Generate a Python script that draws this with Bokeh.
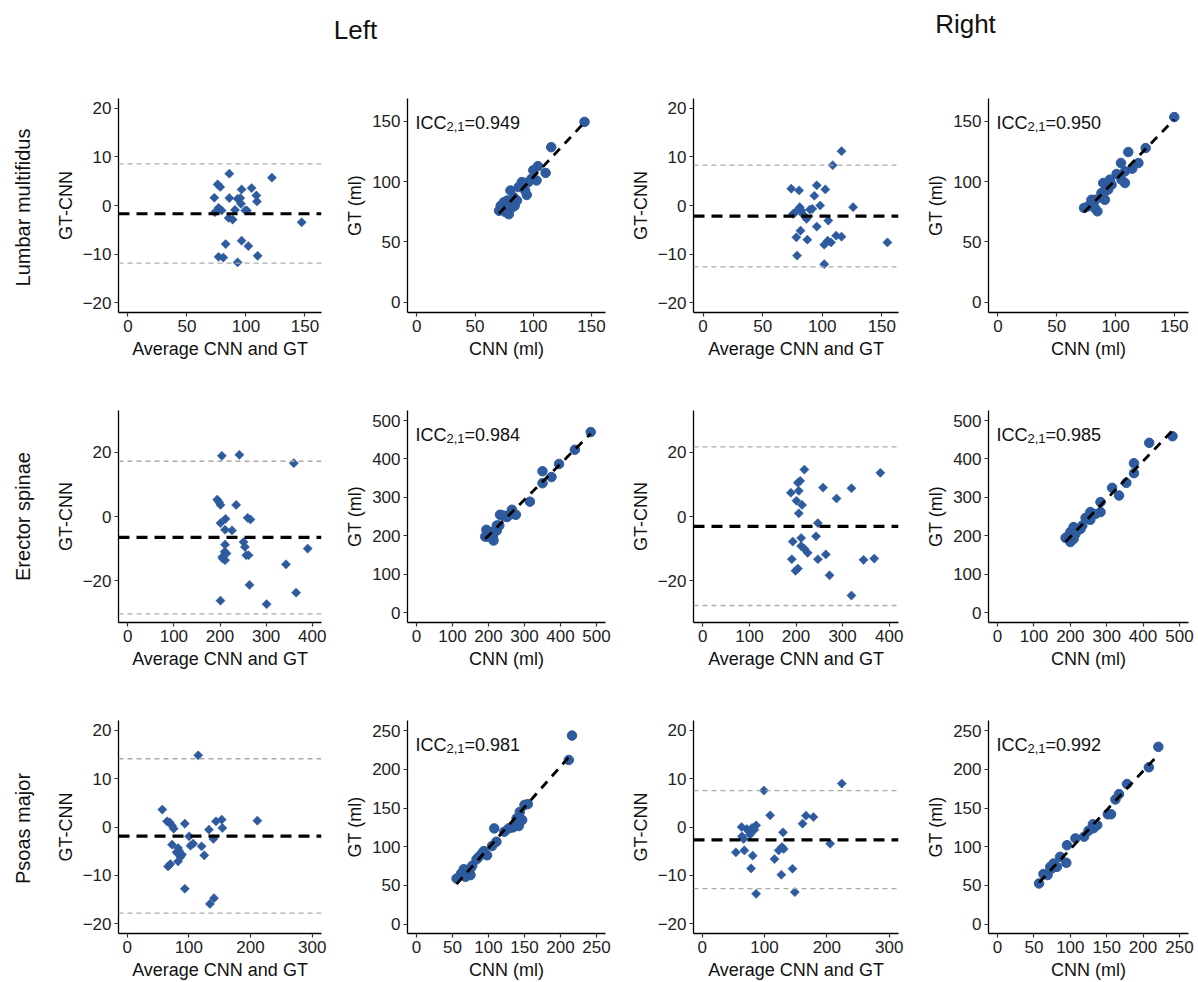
import numpy as np
from bokeh.plotting import figure
from bokeh.layouts import row, column
from bokeh.models import Range1d, Span, Label, FixedTicker
from bokeh.embed import file_html
from bokeh.resources import INLINE
from bokeh.core.properties import value

FONT = "Liberation Sans"
BLUE = "#2E5A9E"

col_titles = ["Left", "Right"]
row_titles = ["Lumbar multifidus", "Erector spinae", "Psoas major"]

# ---- Lumbar multifidus, left ----
lm_left_avg = [73.2, 73.7, 76.0, 78.2, 76.8, 79.4, 76.8, 80.8, 82.8, 85.9, 85.9, 85.3, 88.7, 90.7, 92.9,
               92.9, 95.2, 95.8, 96.3, 96.3, 99.4, 100.8, 102.0, 104.8, 108.8, 109.3, 109.9, 122.0, 147.2]
lm_left_diff = [1.59, -1.38, 4.34, 3.80, -0.48, -1.03, -10.55, -10.70, -7.93, 6.55, 1.52, -2.55, -2.90, -0.90,
                -11.70, 1.38, 1.52, 0.34, 3.31, -7.24, -1.03, -1.03, -8.34, 3.59, 2.07, 0.83, -10.34, 5.72, -3.45]
lm_left_cnn = [144.0, 115.4, 110.6, 104.0, 100.0, 102.8, 98.6, 95.8, 90.2, 91.6, 94.4, 87.4, 80.4, 83.2,
               77.6, 74.8, 72.0, 70.6, 79.0, 82.0, 84.0, 73.4, 76.0, 86.0, 93.0]
lm_left_gt = [149.6, 128.6, 107.3, 112.9, 109.5, 101.0, 102.5, 99.7, 99.7, 97.0, 89.0, 95.5, 92.7, 87.0,
              84.3, 83.0, 80.0, 75.9, 73.0, 78.7, 80.0, 77.6, 74.8, 84.3, 92.7]
lm_left_stats = [-1.7, 8.55, -11.85]   # bias, upper LoA, lower LoA
lm_left_icc = "0.949"

# ---- Lumbar multifidus, right ----
lm_right_avg = [74.0, 75.5, 77.5, 80.6, 81.2, 82.6, 84.0, 78.3, 81.8, 78.9, 86.9, 87.5, 89.7, 91.7, 93.4,
                95.4, 95.4, 98.3, 102.6, 101.7, 101.7, 105.1, 104.6, 107.4, 108.8, 111.7, 116.2, 116.2, 125.9, 154.7]
lm_right_diff = [3.45, -1.72, -1.38, 3.10, -0.34, -1.03, -1.86, -6.55, -5.17, -10.30, -2.76, -7.03, -0.83, -0.69,
                 2.00, 4.14, -4.34, 0.00, 3.31, -12.07, -8.07, -3.10, -7.24, -7.60, 8.28, -6.20, 11.17, -6.41, -0.34, -7.60]
lm_right_cnn = [149.9, 125.6, 110.8, 104.6, 119.4, 114.2, 108.0, 100.9, 105.0, 108.0, 95.2, 92.3, 89.5, 96.6,
                93.7, 90.9, 88.0, 89.5, 82.9, 79.5, 79.5, 76.6, 73.2, 84.6, 82.3, 90.9]
lm_right_gt = [153.6, 127.9, 124.6, 115.5, 115.5, 110.8, 108.6, 106.4, 101.7, 98.9, 101.7, 98.9, 98.9, 97.5,
               93.4, 92.0, 90.6, 86.5, 85.0, 85.0, 80.9, 79.6, 78.2, 75.4, 78.2, 85.0]
lm_right_stats = [-2.2, 8.3, -12.6]
lm_right_icc = "0.950"

# ---- Erector spinae, left ----
es_left_avg = [204, 242, 360, 194, 198, 201, 235, 201, 212, 211, 226, 260, 266, 251, 254, 257, 262, 211, 210,
               214, 205, 211, 264, 201, 301, 343, 365, 390, 206]
es_left_diff = [18.9, 19.2, 16.6, 5.26, 4.43, 3.6, 3.6, -2.06, -0.72, -4.12, -4.33, -0.41, -0.93, -7.94, -9.48,
                -12.06, -12.06, -8.76, -11.0, -11.5, -12.6, -13.6, -21.3, -26.2, -27.3, -14.9, -23.7, -10.0, -13.1]
es_left_cnn = [484, 440, 396, 350, 350, 375, 315, 269, 265, 276, 255, 232, 230, 223, 205, 194, 191, 200, 214,
               212, 223, 241, 251]
es_left_gt = [470, 424, 387, 368, 337, 353, 289, 257, 268, 255, 253, 255, 227, 214, 210, 216, 198, 198, 188,
              197, 227, 253, 249]
es_left_stats = [-6.5, 17.2, -30.3]
es_left_icc = "0.984"

# ---- Erector spinae, right ----
es_right_avg = [189, 206, 204, 209, 218, 201, 213, 206, 258, 287, 319, 381, 247, 243, 193, 211, 211, 218, 225,
                191, 204, 199, 247, 264, 272, 319, 345, 368]
es_right_diff = [7.4, 8.0, 10.5, 11.1, 14.6, 4.9, 3.6, 1.0, 9.0, 5.6, 8.8, 13.6, -2.05, -6.15, -7.8, -6.7, -9.2,
                 -10.05, -11.3, -13.3, -16.2, -16.9, -13.3, -11.8, -18.3, -24.6, -13.5, -13.1]
es_right_cnn = [481, 417, 375, 375, 354, 315, 334, 283, 283, 255, 255, 269, 242, 233, 209, 219, 228, 200, 187,
                200, 209, 214, 196]
es_right_gt = [459, 442, 389, 363, 338, 325, 305, 288, 262, 262, 242, 257, 247, 227, 223, 214, 218, 210, 195,
               184, 192, 205, 201]
es_right_stats = [-3.05, 21.7, -27.7]
es_right_icc = "0.985"

# ---- Psoas major, left ----
pm_left_avg = [57, 64.7, 69, 72.8, 75.5, 66.3, 70, 72.8, 80, 82.6, 83.7, 86.4, 82.6, 93.5, 93.5, 100.5, 102.7,
               107, 115.2, 120.7, 125, 132.6, 134.2, 139.7, 140.8, 144, 153.3, 154.3, 211, 89]
pm_left_diff = [3.59, 1.17, 0.97, 0.28, -0.34, -8.14, -7.66, -3.66, -5.24, -4.34, -4.9, -6.2, -7.1, 0.69, -12.76,
                -1.93, -3.86, -3.45, 14.8, -4.0, -5.86, -0.55, -15.9, -2.48, -14.7, 1.17, 1.52, -0.2, 1.31, -5.7]
pm_left_cnn = [216, 211.6, 154.6, 150, 143.5, 146.8, 142, 139, 134, 128, 122, 108, 111, 105, 98, 93.5, 86.6,
               83.3, 77.3, 75, 71.3, 65.7, 62, 55.6, 68, 75, 91]
pm_left_gt = [243.5, 212, 155, 154, 145, 134.5, 126.7, 136.6, 125, 123.7, 119.4, 123.7, 106.5, 101, 89, 94.4, 87,
              83.6, 75.4, 72, 66.4, 71, 65.5, 59, 61.2, 63.4, 91.4]
pm_left_stats = [-1.9, 14.1, -17.8]
pm_left_icc = "0.981"

# ---- Psoas major, right ----
pm_right_avg = [54, 63.2, 63.8, 66.5, 67.6, 71.4, 74.6, 76.8, 78.4, 81, 83.8, 86.5, 86.5, 80, 99, 109, 116,
                122.7, 128, 127, 129.7, 130.8, 144.9, 148.6, 161, 166.5, 178.4, 205.4, 224]
pm_right_diff = [-5.24, 0, -1.93, -2.48, -4.83, -0.41, -0.9, -1.59, -8.55, -5.93, -0.55, 0.34, -13.8, -0.2, 7.52,
                 2.41, -6.62, -4.83, -4.14, -9.86, -1.1, -4.55, -8.62, -13.45, 0.69, 2.34, 2.07, -3.45, 8.97]
pm_right_cnn = [221, 208, 178, 167, 162, 151.6, 156, 131, 132, 125, 119, 107, 95.4, 94.5, 86, 81.6, 77, 72.4,
                68.7, 63, 57, 74.6, 137]
pm_right_gt = [229, 202.6, 181, 168, 161, 142, 142, 129, 124, 120.7, 113, 110.8, 102, 79.3, 87, 74, 78.4, 74,
               63.4, 64.7, 52.6, 72, 128]
pm_right_stats = [-2.65, 7.5, -12.75]
pm_right_icc = "0.992"

# axis tick values per row
ba_xticks = [[0, 50, 100, 150], [0, 100, 200, 300, 400], [0, 100, 200, 300]]
ba_yticks = [[-20, -10, 0, 10, 20], [-20, 0, 20], [-20, -10, 0, 10, 20]]
sc_ticks = [[0, 50, 100, 150], [0, 100, 200, 300, 400, 500], [0, 50, 100, 150, 200, 250]]

# ----- layout geometry (pixels) -----
COL_W = [(73, 203, 19), (67, 198, 21), (67, 205, 17), (73, 200, 10)]   # left border, frame, right border
ROW_H = [(3, 214, 95), (3, 212, 95), (3, 213, 49)]                    # top border, frame, bottom border
BA_XR = [(-8, 164), (-20, 420), (-14, 315)]
BA_YR = [(-22, 22), (-33, 33), (-22, 22)]
SC_XR = [(-8, 162), (-25, 525), (-12.5, 262.5)]
SC_YR = [(-8.5, 169), (-25, 526), (-12, 263)]


def style(p, xticks, yticks, xlabel, ylabel):
    p.outline_line_color = None
    p.grid.visible = False
    p.background_fill_color = "white"
    p.border_fill_color = "white"
    p.xaxis.ticker = FixedTicker(ticks=xticks)
    p.yaxis.ticker = FixedTicker(ticks=yticks)
    p.xaxis.axis_label = xlabel
    p.yaxis.axis_label = ylabel
    for ax in (p.xaxis, p.yaxis):
        ax.axis_line_color = "black"
        ax.axis_line_width = 1.3
        ax.major_tick_line_color = "#333333"
        ax.major_tick_line_width = 1.2
        ax.major_tick_out = 4
        ax.major_tick_in = 0
        ax.minor_tick_line_color = None
        ax.major_label_text_font = FONT
        ax.major_label_text_font_size = "17px"
        ax.major_label_text_color = "#222222"
        ax.major_label_standoff = 3
        ax.axis_label_text_font = FONT
        ax.axis_label_text_font_size = "18px"
        ax.axis_label_text_font_style = "normal"
        ax.axis_label_text_color = "#111111"
    p.xaxis.axis_label_standoff = 4
    p.yaxis.axis_label_standoff = 4


def base_fig(r, c, xr, yr):
    bl, fw, br = COL_W[c]
    bt, fh, bb = ROW_H[r]
    p = figure(frame_width=fw, frame_height=fh, min_border_left=bl, min_border_right=br,
               min_border_top=bt, min_border_bottom=bb,
               x_range=Range1d(*xr), y_range=Range1d(*yr),
               output_backend="svg", toolbar_location=None, tools="")
    return p


def ba_panel(r, c, avg, diff, stats):
    p = base_fig(r, c, BA_XR[r], BA_YR[r])
    style(p, ba_xticks[r], ba_yticks[r], "Average CNN and GT", "GT-CNN")
    bias, up, lo = stats
    for loc in (up, lo):
        p.add_layout(Span(location=loc, dimension="width", line_color="#AAAAAA",
                          line_width=1.3, line_dash="5 4"))
    p.add_layout(Span(location=bias, dimension="width", line_color="black",
                      line_width=3.2, line_dash="11 7"))
    p.scatter(avg, diff, marker="square", size=6.5, angle=np.pi / 4,
              fill_color=BLUE, line_color=BLUE, line_width=0.5)
    return p


def sc_panel(r, c, cnn, gt, icc):
    p = base_fig(r, c, SC_XR[r], SC_YR[r])
    style(p, sc_ticks[r], sc_ticks[r], "CNN (ml)", "GT (ml)")
    p.scatter(cnn, gt, marker="circle", size=9.5, fill_color=BLUE, line_color=BLUE)
    xa = np.array(cnn, dtype=float)
    ya = np.array(gt, dtype=float)
    b, a = np.polyfit(xa, ya, 1)
    xs = np.array([xa.min(), xa.max()])
    p.line(xs, a + b * xs, line_color="black", line_width=2.8, line_dash="9 7")
    x0 = SC_XR[r][0]
    y1 = SC_YR[r][1]
    common = dict(x=x0, y=y1, text_font=FONT, text_color="#111111", text_baseline="alphabetic")
    p.add_layout(Label(text="ICC", x_offset=8, y_offset=-24, text_font_size="18px", **common))
    p.add_layout(Label(text="2,1", x_offset=39, y_offset=-28, text_font_size="13px", **common))
    p.add_layout(Label(text="=" + icc, x_offset=57, y_offset=-24, text_font_size="18px", **common))
    return p


panels = [
    [ba_panel(0, 0, lm_left_avg, lm_left_diff, lm_left_stats),
     sc_panel(0, 1, lm_left_cnn, lm_left_gt, lm_left_icc),
     ba_panel(0, 2, lm_right_avg, lm_right_diff, lm_right_stats),
     sc_panel(0, 3, lm_right_cnn, lm_right_gt, lm_right_icc)],
    [ba_panel(1, 0, es_left_avg, es_left_diff, es_left_stats),
     sc_panel(1, 1, es_left_cnn, es_left_gt, es_left_icc),
     ba_panel(1, 2, es_right_avg, es_right_diff, es_right_stats),
     sc_panel(1, 3, es_right_cnn, es_right_gt, es_right_icc)],
    [ba_panel(2, 0, pm_left_avg, pm_left_diff, pm_left_stats),
     sc_panel(2, 1, pm_left_cnn, pm_left_gt, pm_left_icc),
     ba_panel(2, 2, pm_right_avg, pm_right_diff, pm_right_stats),
     sc_panel(2, 3, pm_right_cnn, pm_right_gt, pm_right_icc)],
]

# header with column titles (page pixel coordinates)
HEAD_H = 95
LABEL_W = 45
header = figure(width=1198, height=HEAD_H, x_range=Range1d(0, 1198), y_range=Range1d(HEAD_H, 0),
                output_backend="svg", toolbar_location=None, tools="",
                min_border=0)
header.axis.visible = False
header.grid.visible = False
header.outline_line_color = None
header.text(x=[355, 965], y=[29, 23], text=col_titles, text_font=value(FONT),
            text_font_size=value("26px"), text_align="center", text_baseline="middle",
            text_color="#111111")

total_h = sum(sum(h) for h in ROW_H)
side = figure(width=LABEL_W, height=total_h, x_range=Range1d(0, LABEL_W),
              y_range=Range1d(HEAD_H + total_h, HEAD_H),
              output_backend="svg", toolbar_location=None, tools="", min_border=0)
side.axis.visible = False
side.grid.visible = False
side.outline_line_color = None
side.text(x=[22, 22, 22], y=[207, 516, 828], text=row_titles, text_font=value(FONT),
          text_font_size=value("20px"), text_align="center", text_baseline="middle",
          angle=np.pi / 2, text_color="#111111")

grid = column(*[row(*pr, spacing=0) for pr in panels], spacing=0)
layout = column(header, row(side, grid, spacing=0), spacing=0)

open("out.html", "w").write(file_html(layout, INLINE))
